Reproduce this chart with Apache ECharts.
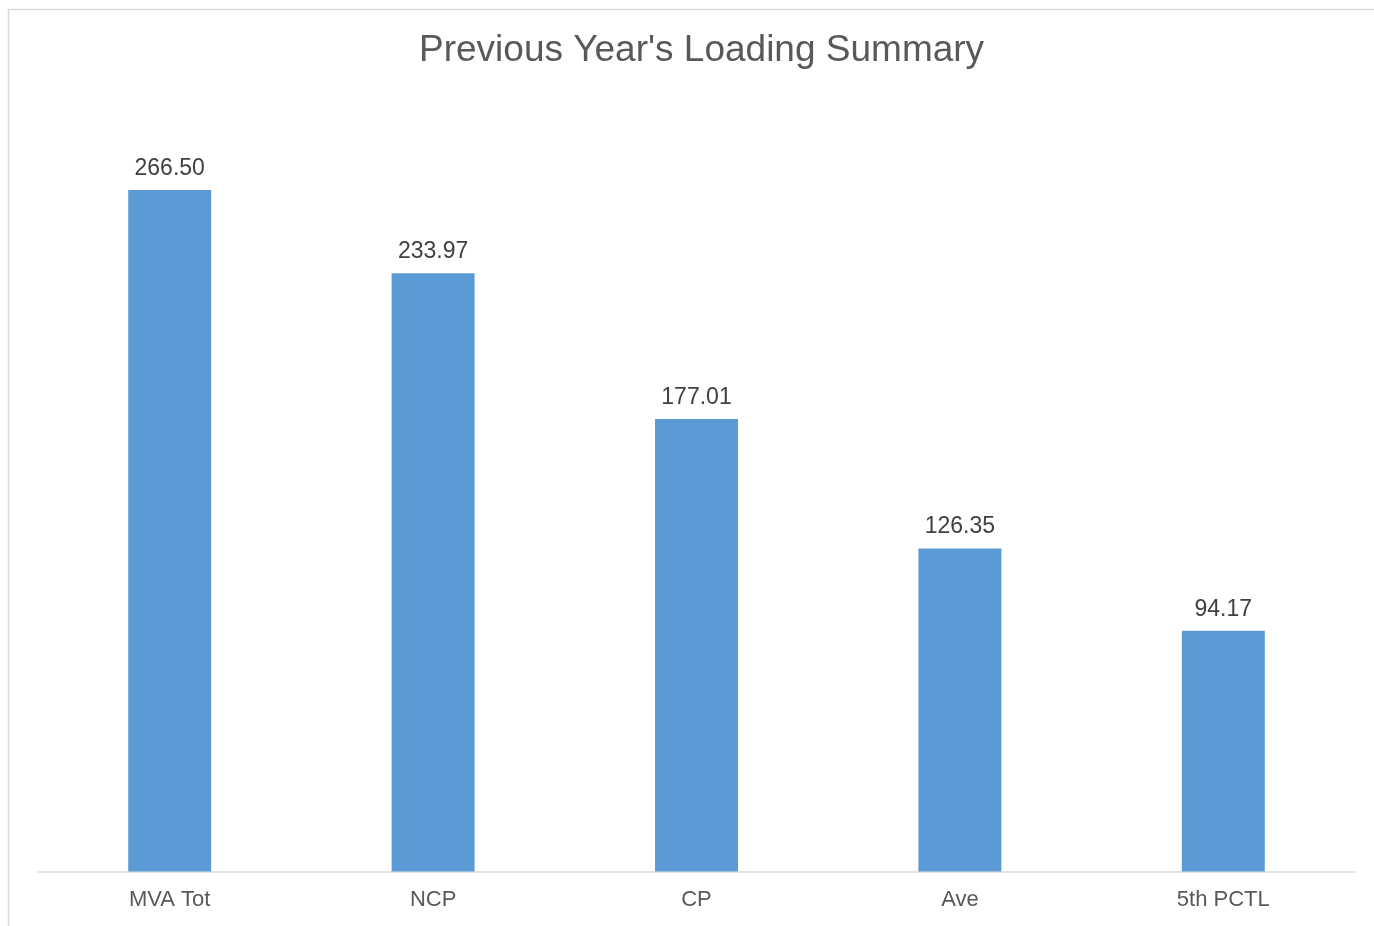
<!DOCTYPE html>
<html><head><meta charset="utf-8">
<style>html,body{margin:0;padding:0;background:#fff;}#c{width:1374px;height:926px;}</style>
<script src="https://cdn.jsdelivr.net/npm/echarts@6/dist/echarts.min.js"></script>
</head><body><div id="c"></div>
<script>
const categories = ['MVA Tot', 'NCP', 'CP', 'Ave', '5th PCTL'];
const values = [266.50, 233.97, 177.01, 126.35, 94.17];
const chart = echarts.init(document.getElementById('c'));
chart.setOption({
  animation: false,
  backgroundColor: '#fff',
  graphic: [{type: 'rect', shape: {x: 8.5, y: 9.5, width: 1400, height: 1000}, style: {fill: 'none', stroke: '#d9d9d9', lineWidth: 1.5}, silent: true}],
  title: {text: "Previous Year's Loading Summary", left: 414, top: 27,
    textStyle: {fontFamily: 'Liberation Sans', fontSize: 37, fontWeight: 'normal', color: '#595959'}},
  grid: {left: 38, right: 19, top: 104.4, bottom: 54.5},
  xAxis: {type: 'category', data: categories,
    axisLine: {lineStyle: {color: '#d9d9d9', width: 1.5}}, axisTick: {show: false},
    axisLabel: {fontFamily: 'Liberation Sans', fontSize: 22, color: '#595959', margin: 17}},
  yAxis: {type: 'value', min: 0, max: 300, interval: 50, show: false, splitLine: {show: false}},
  series: [{type: 'bar', data: values, barWidth: '31.5%', itemStyle: {color: '#5b9bd5'},
    label: {show: true, position: 'top', distance: 10, formatter: p => p.value.toFixed(2),
      fontFamily: 'Liberation Sans', fontSize: 23, color: '#404040'}}]
});
</script></body></html>
